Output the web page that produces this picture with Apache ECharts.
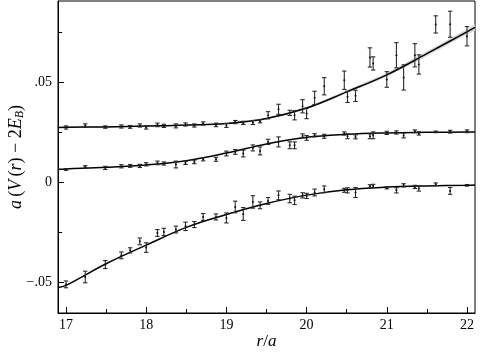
<!DOCTYPE html>
<html>
<head>
<meta charset="utf-8">
<script src="https://cdn.jsdelivr.net/npm/echarts@6/dist/echarts.min.js"></script>
<style>
  html, body { margin: 0; padding: 0; background: #fff; }
  #chart { width: 480px; height: 355px; }
</style>
</head>
<body>
<div id="chart"></div>
<script>
// r/a values shared by all three data sets
var rValues = [17.0, 17.24, 17.49, 17.69, 17.80, 17.92, 18.0, 18.14, 18.22, 18.37, 18.49, 18.6, 18.71, 18.87, 19.0, 19.11,
  19.21, 19.33, 19.42, 19.52, 19.65, 19.79, 19.85, 19.95, 20.0, 20.10, 20.22, 20.47, 20.51, 20.61, 20.79, 20.83,
  21.0, 21.12, 21.21, 21.35, 21.40, 21.61, 21.79, 22.0];

var topVals = [0.0272, 0.0282, 0.0274, 0.0277, 0.0275, 0.0282, 0.0272, 0.0285, 0.028, 0.028, 0.0287, 0.0282, 0.0292, 0.0285, 0.0282, 0.0299,
  0.0295, 0.0297, 0.0303, 0.0333, 0.0363, 0.0345, 0.0333, 0.0378, 0.0342, 0.042, 0.0478, 0.0508, 0.0425, 0.043, 0.0622, 0.0592,
  0.0512, 0.0633, 0.0522, 0.0633, 0.0587, 0.0787, 0.0788, 0.0728];
var topErr = [0.0008, 0.0008, 0.0006, 0.0008, 0.0007, 0.0008, 0.0008, 0.0009, 0.0008, 0.001, 0.0008, 0.0008, 0.0008, 0.0009, 0.001, 0.0008,
  0.0008, 0.001, 0.0008, 0.0018, 0.0025, 0.0013, 0.0023, 0.0033, 0.0026, 0.0033, 0.0043, 0.0046, 0.0028, 0.0028, 0.0048, 0.0033,
  0.0039, 0.0063, 0.0063, 0.0058, 0.0048, 0.0043, 0.0065, 0.0048];

var midVals = [0.0062, 0.0075, 0.007, 0.0078, 0.008, 0.008, 0.0088, 0.0095, 0.0092, 0.0087, 0.0095, 0.01, 0.0113, 0.0113, 0.0142, 0.015,
  0.0142, 0.017, 0.0155, 0.02, 0.02, 0.0183, 0.0183, 0.023, 0.022, 0.0233, 0.0228, 0.0242, 0.0228, 0.0225, 0.0228, 0.0233,
  0.0245, 0.0247, 0.0232, 0.0253, 0.0242, 0.025, 0.0251, 0.0253];
var midErr = [0.0004, 0.0006, 0.0008, 0.0008, 0.0007, 0.0008, 0.0008, 0.0009, 0.0008, 0.0017, 0.0008, 0.0009, 0.0008, 0.001, 0.0012, 0.0012,
  0.0017, 0.0015, 0.002, 0.0013, 0.0025, 0.0017, 0.0017, 0.001, 0.0012, 0.0008, 0.001, 0.0008, 0.0012, 0.001, 0.0012, 0.0017,
  0.0008, 0.0008, 0.0012, 0.0007, 0.0008, 0.0004, 0.0007, 0.0007];

var botVals = [-0.0512, -0.0475, -0.0413, -0.0367, -0.0342, -0.0297, -0.0328, -0.0255, -0.025, -0.0238, -0.0222, -0.0213, -0.0175, -0.0175, -0.018, -0.0125,
  -0.016, -0.01, -0.0117, -0.0095, -0.0067, -0.0083, -0.0092, -0.0067, -0.007, -0.0053, -0.0037, -0.0042, -0.0042, -0.0053, -0.0022, -0.002,
  -0.003, -0.0042, -0.0017, -0.0025, -0.0033, -0.0012, -0.0045, -0.0017];
var botErr = [0.0017, 0.0029, 0.002, 0.0017, 0.0013, 0.0017, 0.0024, 0.0017, 0.0018, 0.0017, 0.0021, 0.0015, 0.0017, 0.0015, 0.0025, 0.0029,
  0.0032, 0.0031, 0.0017, 0.0017, 0.0022, 0.0021, 0.0021, 0.0013, 0.0013, 0.0017, 0.0017, 0.001, 0.0013, 0.0025, 0.0008, 0.0008,
  0.0005, 0.0013, 0.0008, 0.0008, 0.0013, 0.0007, 0.0017, 0.0004];

var rCurve = [16.9, 17, 17.5, 18, 18.5, 19, 19.5, 20, 20.5, 21, 21.5, 22, 22.1];
var topFit = [0.0272, 0.0273, 0.0275, 0.0279, 0.0284, 0.0292, 0.0317, 0.0369, 0.045, 0.0535, 0.0641, 0.075, 0.0772];
var topBandLo = [0.0269, 0.027, 0.0272, 0.0276, 0.0281, 0.0289, 0.0313, 0.0363, 0.0442, 0.0525, 0.0629, 0.0736, 0.0757];
var topBandHi = [0.0275, 0.0276, 0.0278, 0.0282, 0.0287, 0.0295, 0.0321, 0.0375, 0.0458, 0.0545, 0.0653, 0.0764, 0.0787];
var midFit = [0.0063, 0.0065, 0.0073, 0.0085, 0.0106, 0.0144, 0.019, 0.0223, 0.0238, 0.0245, 0.0248, 0.025, 0.025];
var botFit = [-0.0528, -0.0517, -0.0409, -0.0316, -0.0227, -0.0163, -0.0108, -0.0066, -0.0039, -0.0026, -0.002, -0.0017, -0.0015];

var xLabels = [17, 18, 19, 20, 21, 22];
var xMinor = [17.5, 18.5, 19.5, 20.5, 21.5];
var yLabels = [-0.05, 0, 0.05];
var yMinor = [-0.025, 0.025, 0.075];

var FONT = 'Liberation Serif';

function zip(xs, ys) {
  return xs.map(function (x, i) { return [x, ys[i]]; });
}
function zipErr(xs, ys, es) {
  return xs.map(function (x, i) { return [x, ys[i], es[i]]; });
}

function renderErr(params, api) {
  var x = api.value(0), y = api.value(1), e = api.value(2);
  var hi = api.coord([x, y + e]);
  var lo = api.coord([x, y - e]);
  var c = api.coord([x, y]);
  var w = 2.2;
  var st = { stroke: '#2a2a2a', lineWidth: 1.1 };
  return {
    type: 'group',
    children: [
      { type: 'line', shape: { x1: hi[0], y1: hi[1], x2: lo[0], y2: lo[1] }, style: st },
      { type: 'line', shape: { x1: hi[0] - w, y1: hi[1], x2: hi[0] + w, y2: hi[1] }, style: st },
      { type: 'line', shape: { x1: lo[0] - w, y1: lo[1], x2: lo[0] + w, y2: lo[1] }, style: st },
      { type: 'circle', shape: { cx: c[0], cy: c[1], r: 1 }, style: { fill: '#111' } }
    ]
  };
}

function renderBand(params, api) {
  var pts = [];
  for (var i = 0; i < rCurve.length; i++) pts.push(api.coord([rCurve[i], topBandHi[i]]));
  for (var j = rCurve.length - 1; j >= 0; j--) pts.push(api.coord([rCurve[j], topBandLo[j]]));
  return {
    type: 'polygon',
    shape: { points: pts, smooth: 0.2 },
    style: { fill: '#d9d9d9' }
  };
}

function fmtY(v) {
  if (v === 0) return '0';
  return (v < 0 ? '\u2212' : '') + Math.abs(v).toFixed(2).replace(/^0/, '');
}

var chart = echarts.init(document.getElementById('chart'), null, { renderer: 'canvas' });

var lineStyleFit = { color: '#000', width: 1.5 };

chart.setOption({
  animation: false,
  backgroundColor: '#fff',
  grid: {
    left: 58, right: 5, top: 1, bottom: 42, outerBoundsMode: 'none', containLabel: false,
    show: true, borderColor: '#000', borderWidth: 1, backgroundColor: 'transparent'
  },
  xAxis: [{
    type: 'value', min: 16.9, max: 22.1,
    name: '{i|r}{n|/}{i|a}', nameLocation: 'middle', nameGap: 20, nameMoveOverlap: false,
    nameTextStyle: { rich: { i: { fontFamily: FONT, fontStyle: 'italic', fontSize: 17, color: '#000' }, n: { fontFamily: FONT, fontSize: 17, color: '#000' } } },
    axisLine: { onZero: false, lineStyle: { color: '#000', width: 1 } },
    axisTick: { inside: true, length: 6, customValues: xLabels, lineStyle: { color: '#000' } },
    axisLabel: { customValues: xLabels, fontFamily: FONT, fontSize: 14, color: '#000', margin: 5 },
    splitLine: { show: false }
  }, {
    type: 'value', min: 16.9, max: 22.1, position: 'bottom',
    axisLine: { show: false, onZero: false },
    axisTick: { inside: true, length: 4, customValues: xMinor, lineStyle: { color: '#000' } },
    axisLabel: { show: false },
    splitLine: { show: false }
  }],
  yAxis: [{
    type: 'value', min: -0.0655, max: 0.0904,
    name: '{i|a} {n|(}{i|V} {n|(}{i|r}{n|) \u2212 2}{i|E}{s|B}{n|)}', nameLocation: 'middle', nameGap: 32, nameRotate: 90, nameMoveOverlap: false,
    nameTextStyle: {
      rich: {
        i: { fontFamily: FONT, fontStyle: 'italic', fontSize: 18, color: '#000' },
        n: { fontFamily: FONT, fontSize: 18, color: '#000' },
        s: { fontFamily: FONT, fontStyle: 'italic', fontSize: 12, color: '#000', verticalAlign: 'bottom', padding: [7, 0, 0, 0] }
      }
    },
    axisLine: { onZero: false, lineStyle: { color: '#000', width: 1 } },
    axisTick: { inside: true, length: 6, customValues: yLabels, lineStyle: { color: '#000' } },
    axisLabel: { customValues: yLabels, formatter: fmtY, fontFamily: FONT, fontSize: 14, color: '#000', margin: 6 },
    splitLine: { show: false }
  }, {
    type: 'value', min: -0.0655, max: 0.0904, position: 'left',
    axisLine: { show: false, onZero: false },
    axisTick: { inside: true, length: 4, customValues: yMinor, lineStyle: { color: '#000' } },
    axisLabel: { show: false },
    splitLine: { show: false }
  }],
  series: [
    { type: 'custom', renderItem: renderBand, data: [[0]], clip: true, z: 1, silent: true },
    { type: 'line', data: zip(rCurve, topFit), smooth: 0.4, symbol: 'none', lineStyle: lineStyleFit, z: 3 },
    { type: 'line', data: zip(rCurve, midFit), smooth: 0.4, symbol: 'none', lineStyle: lineStyleFit, z: 3 },
    { type: 'line', data: zip(rCurve, botFit), smooth: 0.4, symbol: 'none', lineStyle: lineStyleFit, z: 3 },
    { type: 'custom', renderItem: renderErr, data: zipErr(rValues, topVals, topErr), clip: true, z: 4 },
    { type: 'custom', renderItem: renderErr, data: zipErr(rValues, midVals, midErr), clip: true, z: 4 },
    { type: 'custom', renderItem: renderErr, data: zipErr(rValues, botVals, botErr), clip: true, z: 4 }
  ]
});

window.onresize = function () { chart.resize(); };
</script>
</body>
</html>
